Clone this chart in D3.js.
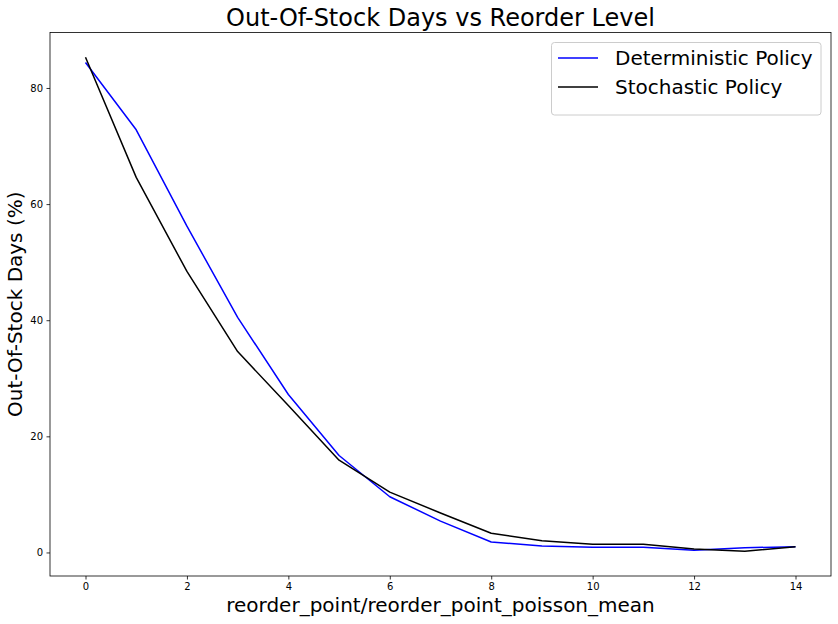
<!DOCTYPE html>
<html><head><meta charset="utf-8">
<script src="https://cdn.jsdelivr.net/npm/d3@7"></script>
<style>body{margin:0;background:#fff}svg{display:block;font-family:"DejaVu Sans",sans-serif}</style>
</head><body><svg id="c" width="838" height="624"></svg>
<script>
const reorderLevels = [0,1,2,3,4,5,6,7,8,9,10,11,12,13,14];
const deterministic = [84.4,72.8,56.2,40.5,27.2,16.7,9.6,5.4,1.8,1.1,0.9,0.9,0.4,0.8,1.0];
const stochastic    = [85.3,64.6,48.4,34.6,25.3,15.9,10.4,6.8,3.3,2.0,1.4,1.4,0.6,0.2,1.0];
const xTicks = [0,2,4,6,8,10,12,14];
const yTicks = [0,20,40,60,80];
const seriesNames = ["Deterministic Policy","Stochastic Policy"];
const seriesColors = ["#0000ff","#000000"];

const svg = d3.select("#c");
const L=50, R=831, T=32.5, B=576;
const all = deterministic.concat(stochastic);
const ymin=d3.min(all), ymax=d3.max(all), yr=ymax-ymin;
const x = d3.scaleLinear().domain([-0.7,14.7]).range([L,R]);
const y = d3.scaleLinear().domain([ymin-0.05*yr, ymax+0.05*yr]).range([B,T]);

const xa = svg.append("g").attr("transform",`translate(0,${B})`)
  .call(d3.axisBottom(x).tickValues(xTicks).tickSize(3.5).tickPadding(3.5).tickFormat(d3.format("d")));
const ya = svg.append("g").attr("transform",`translate(${L},0)`)
  .call(d3.axisLeft(y).tickValues(yTicks).tickSize(3.5).tickPadding(3.5).tickFormat(d3.format("d")));
[xa,ya].forEach(a=>{a.select(".domain").remove();a.selectAll("text").attr("font-size",10).attr("fill","#000").attr("font-family","DejaVu Sans");a.selectAll("line").attr("stroke","#000").attr("stroke-width",0.8);});

const line = d3.line().x((d,i)=>x(reorderLevels[i])).y(d=>y(d));
[deterministic,stochastic].forEach((s,k)=>{
  svg.append("path").datum(s).attr("d",line).attr("fill","none").attr("stroke",seriesColors[k]).attr("stroke-width",1.5).attr("stroke-linejoin","round");
});
svg.append("rect").attr("x",L).attr("y",T).attr("width",R-L).attr("height",B-T).attr("fill","none").attr("stroke","#000").attr("stroke-width",0.8);

svg.append("text").attr("x",(L+R)/2).attr("y",26).attr("text-anchor","middle").attr("font-size",24).text("Out-Of-Stock Days vs Reorder Level");
svg.append("text").attr("x",(L+R)/2).attr("y",612).attr("text-anchor","middle").attr("font-size",20).text("reorder_point/reorder_point_poisson_mean");
svg.append("text").attr("transform",`translate(22,${(T+B)/2}) rotate(-90)`).attr("text-anchor","middle").attr("font-size",20).text("Out-Of-Stock Days (%)");

const lg = svg.append("g");
lg.append("rect").attr("x",551.5).attr("y",42.5).attr("width",269.5).attr("height",72.5).attr("rx",3).attr("fill","#fff").attr("fill-opacity",0.8).attr("stroke","#ccc").attr("stroke-width",1);
seriesNames.forEach((n,k)=>{
  const yy = 58 + k*29;
  lg.append("line").attr("x1",558).attr("x2",598).attr("y1",yy).attr("y2",yy).attr("stroke",seriesColors[k]).attr("stroke-width",1.5);
  lg.append("text").attr("x",615).attr("y",yy+7).attr("font-size",20).text(n);
});
</script></body></html>
